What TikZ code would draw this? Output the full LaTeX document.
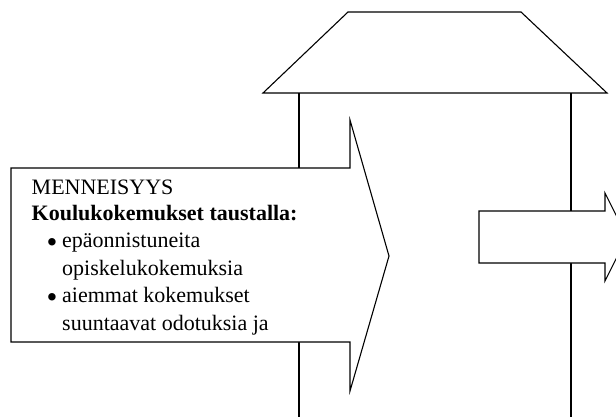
\documentclass[tikz,border=0pt]{standalone}
\usepackage{fontspec}
\setmainfont{Liberation Serif}
\begin{document}
\begin{tikzpicture}[x=1pt,y=-1pt,
  outline/.style={draw=black,line width=1.1pt,line join=miter},
  shapefill/.style={outline,fill=white},
  txt/.style={anchor=base west,inner sep=0pt,font=\fontsize{22}{27}\selectfont},
  bul/.style={anchor=base,inner sep=0pt,font=\fontsize{31}{31}\selectfont}]
\useasboundingbox (0,0) rectangle (616,416);
\clip (0,0) rectangle (616,416);

% roof of the house
\draw[shapefill] (348,12) -- (521,12) -- (607,93) -- (263,93) -- cycle;

% walls
\coordinate (wl) at (299,93);
\coordinate (wr) at (571,93);
\draw[outline] (wl) -- (299,420);
\draw[outline] (wr) -- (571,420);

% large arrow entering the house from the left
\draw[shapefill] (11,168) -- (350,168) -- (350,120) -- (389,256)
  -- (350,391) -- (350,342) -- (11,342) -- cycle;

% small arrow leaving the house on the right
\draw[shapefill] (479,211) -- (605,211) -- (605,193) -- (627,237)
  -- (605,281) -- (605,263) -- (479,263) -- cycle;

% text of the left arrow
\node[txt] (t1) at (31.5,194.5) {MENNEISYYS};
\node[txt] (t2) at (31.5,220) {\textbf{Koulukokemukset taustalla:}};
\node[bul] (b1) at (52,252) {•};
\node[txt] (t3) at (62,247.5) {epäonnistuneita};
\node[txt] (t4) at (62,275) {opiskelukokemuksia};
\node[bul] (b2) at (52,307) {•};
\node[txt] (t5) at (62,302.5) {aiemmat kokemukset};
\node[txt] (t6) at (62,330) {suuntaavat odotuksia ja};
\end{tikzpicture}
\end{document}
